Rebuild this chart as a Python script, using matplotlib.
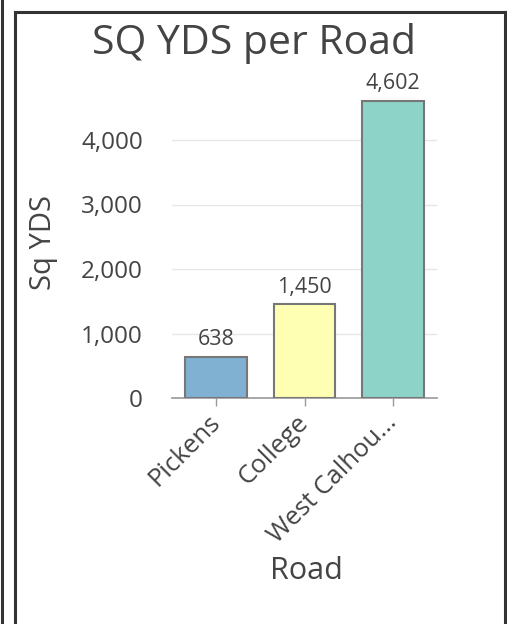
import matplotlib
matplotlib.use("Agg")
import matplotlib.pyplot as plt
from matplotlib.lines import Line2D
from matplotlib.ticker import FuncFormatter, MultipleLocator

roads = ["Pickens", "College", "West Calhou..."]
sq_yds = [638, 1450, 4602]
colors = ["#80b1d3", "#ffffb3", "#8dd3c7"]

plt.rcParams['font.family'] = ['Open Sans', 'DejaVu Sans']
txt = "#444444"

W, H = 507, 624
fig = plt.figure(figsize=(W / 100, H / 100), dpi=100)
fig.patch.set_facecolor("white")

def fx(px):
    return px / W

def fy(py):
    return 1 - py / H

ax = fig.add_axes([fx(172), fy(398), fx(437) - fx(172), fy(75.5) - fy(398)])
x = list(range(len(roads)))
bars = ax.bar(x, sq_yds, width=0.70, color=colors, edgecolor="#777777", linewidth=1.5, zorder=3)
for xi, v in zip(x, sq_yds):
    ax.annotate(f"{v:,}", (xi, v), xytext=(0, 5), textcoords="offset points",
                ha="center", va="bottom", fontsize=15.5, color=txt)

ax.set_xlim(-0.5, 2.5)
ax.set_ylim(0, 5000)
ax.yaxis.set_major_locator(MultipleLocator(1000))
ax.yaxis.set_major_formatter(FuncFormatter(lambda v, p: f"{int(v):,}" if v <= 4000 else ""))
ax.grid(axis="y", color="#e6e6e6", linewidth=1, zorder=0)
for s in ["left", "right", "top"]:
    ax.spines[s].set_visible(False)
ax.spines["bottom"].set_color("#999999")
ax.spines["bottom"].set_linewidth(1.2)
ax.tick_params(axis="y", length=0, pad=21, labelsize=17.5, labelcolor=txt)
ax.tick_params(axis="x", length=6, width=1, color="#999999", pad=9, labelsize=18.5, labelcolor=txt)
ax.set_xticks(x)
ax.set_xticklabels(roads, rotation=45, ha="right", va="center", rotation_mode="anchor")
ax.set_yticks([0, 1000, 2000, 3000, 4000])

fig.text(fx(43), fy(242), "Sq YDS", rotation=90, ha="center", va="center", fontsize=21, color=txt)
fig.text(fx(306), fy(571), "Road", ha="center", va="center", fontsize=22, color=txt)
fig.text(fx(254), fy(44), "SQ YDS per Road", ha="center", va="center", fontsize=29.5, color=txt)

fc = "#333333"
fig.add_artist(Line2D([fx(2), fx(2)], [0, 1], color=fc, linewidth=2.2, transform=fig.transFigure))
fig.add_artist(Line2D([fx(15), fx(15)], [0, fy(11.5)], color=fc, linewidth=2.2, transform=fig.transFigure))
fig.add_artist(Line2D([fx(15), fx(505)], [fy(11.5), fy(11.5)], color=fc, linewidth=2.2, transform=fig.transFigure))
fig.add_artist(Line2D([fx(505), fx(505)], [0, fy(11.5)], color=fc, linewidth=2.2, transform=fig.transFigure))

fig.savefig("out.png", dpi=100)
